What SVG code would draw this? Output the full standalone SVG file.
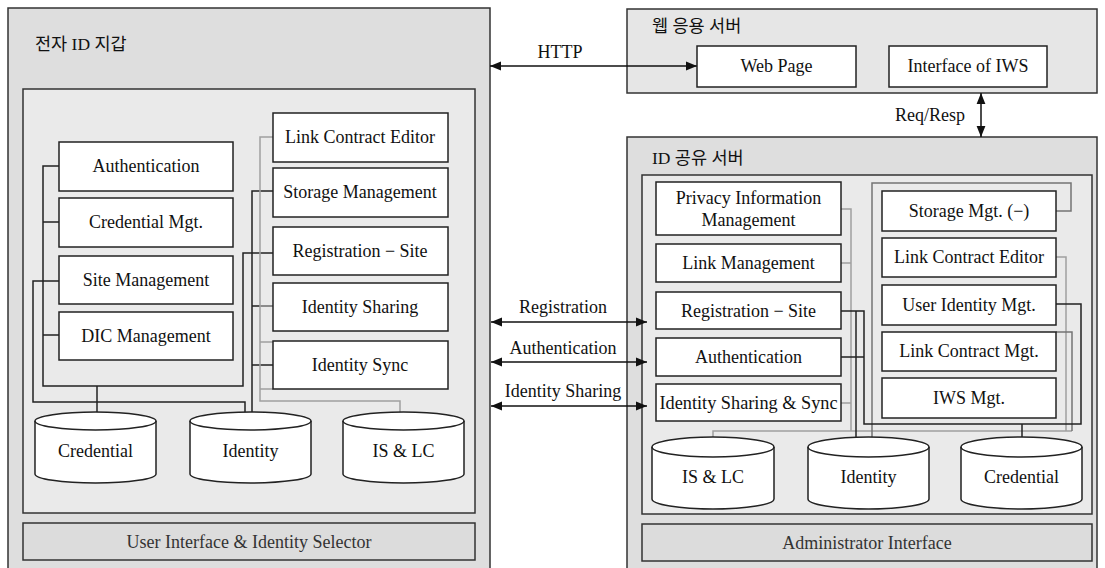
<svg xmlns="http://www.w3.org/2000/svg" width="1105" height="568" viewBox="0 0 1105 568">
<defs>
<style>
.panel{fill:#dedede;stroke:#333;stroke-width:1.5}
.panel2{fill:#e6e6e6;stroke:#333;stroke-width:1.5}
.inner{fill:#eaeaea;stroke:#333;stroke-width:1.5}
.bar{fill:#dcdcdc;stroke:#333;stroke-width:1.5}
.box{fill:#fff;stroke:#222;stroke-width:1.5}
.cyl{fill:#fff;stroke:#222;stroke-width:1.5}
.cf{fill:none;stroke:#222;stroke-width:1.5}
.t{font-family:"Liberation Serif","Noto Sans CJK KR",serif;font-size:18px;fill:#111;text-anchor:middle}
.title{font-family:"Liberation Serif","Noto Sans CJK KR",serif;font-size:17.5px;fill:#111}
.dk{fill:none;stroke:#222;stroke-width:1.5}
.gy{fill:none;stroke:#a0a0a0;stroke-width:1.5}
.md{fill:none;stroke:#747474;stroke-width:1.5}
.arr{fill:none;stroke:#111;stroke-width:1.5;marker-start:url(#ah);marker-end:url(#ah)}
</style>
<marker id="ah" viewBox="0 0 10 10" refX="10" refY="5" markerWidth="11" markerHeight="11" markerUnits="userSpaceOnUse" orient="auto-start-reverse">
<path d="M0,1 L10,5 L0,9 Z" fill="#111"/>
</marker>
</defs>

<g id="wallet">
<rect class="panel" x="8" y="8" width="482" height="570"/>
<text class="title" x="35" y="50">전자 ID 지갑</text>
<rect class="inner" x="23" y="89" width="452" height="424"/>
<rect class="bar" x="23" y="523" width="452" height="37"/>
<text class="t" x="249" y="548" style="fill:#333">User Interface &amp; Identity Selector</text>
</g>

<g id="webserver">
<rect class="panel2" x="627" y="9" width="470" height="84"/>
<text class="title" x="652" y="32">웹 응용 서버</text>
</g>

<g id="idserver">
<rect class="panel" x="627" y="137" width="470" height="441"/>
<text class="title" x="652" y="164">ID 공유 서버</text>
<rect class="inner" x="642" y="175" width="450" height="339"/>
<rect class="bar" x="642" y="524" width="450" height="37"/>
<text class="t" x="867" y="549" style="fill:#333">Administrator Interface</text>
</g>

<g id="connectors">
<!-- left wallet -->
<path class="dk" d="M59,166 H43 V386 H243 V253 H273"/>
<path class="dk" d="M59,222 H43 M59,335 H43"/>
<path class="dk" d="M97,386 V416"/>
<path class="dk" d="M59,281 H33 V402 H245 V418 H252 V191 H273"/>
<path class="dk" d="M252,306 H273 M252,365 H273"/>
<path class="gy" d="M273,137 H260 V401 H400 V420"/>
<path class="gy" d="M260,306 H273 M260,342 H273 M260,389 H273"/>
<!-- right id server -->
<path class="gy" d="M841,209 H851 V431 M841,263 H851 M841,403 H851"/>
<path class="gy" d="M713,447 V431 H1072"/>
<path class="gy" d="M1056,257 H1066 V431"/>
<path class="md" d="M1056,332 H1072 V431"/>
<path class="md" d="M1056,211 H1071 V183 H872 V448 H856"/>
<path class="dk" d="M841,311 H864 V424 H1081 V304 H1056"/>
<path class="dk" d="M841,357 H864"/>
<path class="dk" d="M856,311 V448"/>
<path class="dk" d="M1022,424 V447"/>
<!-- interfaces -->
<path class="arr" d="M490,66 H697"/>
<text class="t" x="560" y="58">HTTP</text>
<path class="arr" d="M981,93 V137"/>
<text class="t" x="930" y="121">Req/Resp</text>
<path class="arr" d="M491,322 H647"/>
<text class="t" x="563" y="313">Registration</text>
<path class="arr" d="M491,362 H647"/>
<text class="t" x="563" y="354">Authentication</text>
<path class="arr" d="M491,406 H647"/>
<text class="t" x="563" y="397">Identity Sharing</text>
</g>

<g id="w-authentication"><rect class="box" x="59" y="142" width="174" height="49"/><text class="t" x="146" y="172">Authentication</text></g>
<g id="w-credential-mgt"><rect class="box" x="59" y="198" width="174" height="49"/><text class="t" x="146" y="228">Credential Mgt.</text></g>
<g id="w-site-management"><rect class="box" x="59" y="256" width="174" height="48"/><text class="t" x="146" y="286">Site Management</text></g>
<g id="w-dic-management"><rect class="box" x="59" y="312" width="174" height="48"/><text class="t" x="146" y="342">DIC Management</text></g>

<g id="w-link-contract-editor"><rect class="box" x="273" y="113" width="175" height="49"/><text class="t" x="360" y="143">Link Contract Editor</text></g>
<g id="w-storage-management"><rect class="box" x="273" y="168" width="175" height="49"/><text class="t" x="360" y="198">Storage Management</text></g>
<g id="w-registration-site"><rect class="box" x="273" y="227" width="175" height="48"/><text class="t" x="360" y="257">Registration − Site</text></g>
<g id="w-identity-sharing"><rect class="box" x="273" y="283" width="175" height="48"/><text class="t" x="360" y="313">Identity Sharing</text></g>
<g id="w-identity-sync"><rect class="box" x="273" y="341" width="175" height="48"/><text class="t" x="360" y="371">Identity Sync</text></g>

<g id="w-db-credential"><path class="cyl" d="M35,421 A60.5,9 0 0 1 156,421 V474 A60.5,9 0 0 1 35,474 Z"/><path class="cf" d="M35,421 A60.5,9 0 0 0 156,421"/><text class="t" x="95.5" y="457">Credential</text></g>
<g id="w-db-identity"><path class="cyl" d="M190,421 A60.5,9 0 0 1 311,421 V474 A60.5,9 0 0 1 190,474 Z"/><path class="cf" d="M190,421 A60.5,9 0 0 0 311,421"/><text class="t" x="250.5" y="457">Identity</text></g>
<g id="w-db-islc"><path class="cyl" d="M343,421 A60.5,9 0 0 1 464,421 V474 A60.5,9 0 0 1 343,474 Z"/><path class="cf" d="M343,421 A60.5,9 0 0 0 464,421"/><text class="t" x="403.5" y="457">IS &amp; LC</text></g>

<g id="web-page"><rect class="box" x="697" y="46" width="159" height="41"/><text class="t" x="776.5" y="72">Web Page</text></g>
<g id="interface-iws"><rect class="box" x="889" y="46" width="158" height="41"/><text class="t" x="968" y="72">Interface of IWS</text></g>

<g id="s-privacy"><rect class="box" x="656" y="182" width="185" height="53"/><text class="t" x="748.5" y="204">Privacy Information</text><text class="t" x="748.5" y="226">Management</text></g>
<g id="s-link-management"><rect class="box" x="656" y="244" width="185" height="38"/><text class="t" x="748.5" y="269">Link Management</text></g>
<g id="s-registration-site"><rect class="box" x="656" y="292" width="185" height="37"/><text class="t" x="748.5" y="317">Registration − Site</text></g>
<g id="s-authentication"><rect class="box" x="656" y="338" width="185" height="38"/><text class="t" x="748.5" y="363">Authentication</text></g>
<g id="s-identity-sharing-sync"><rect class="box" x="656" y="384" width="185" height="37"/><text class="t" x="748.5" y="409" textLength="178" lengthAdjust="spacingAndGlyphs">Identity Sharing &amp; Sync</text></g>

<g id="s-storage-mgt"><rect class="box" x="882" y="191" width="174" height="40"/><text class="t" x="969" y="217">Storage Mgt. (−)</text></g>
<g id="s-link-contract-editor"><rect class="box" x="882" y="238" width="174" height="39"/><text class="t" x="969" y="263">Link Contract Editor</text></g>
<g id="s-user-identity-mgt"><rect class="box" x="882" y="285" width="174" height="40"/><text class="t" x="969" y="311">User Identity Mgt.</text></g>
<g id="s-link-contract-mgt"><rect class="box" x="882" y="332" width="174" height="39"/><text class="t" x="969" y="357">Link Contract Mgt.</text></g>
<g id="s-iws-mgt"><rect class="box" x="882" y="378" width="174" height="40"/><text class="t" x="969" y="404">IWS Mgt.</text></g>

<g id="s-db-islc"><path class="cyl" d="M652,447 A61,10 0 0 1 774,447 V499 A61,10 0 0 1 652,499 Z"/><path class="cf" d="M652,447 A61,10 0 0 0 774,447"/><text class="t" x="713" y="483">IS &amp; LC</text></g>
<g id="s-db-identity"><path class="cyl" d="M808,447 A60.5,10 0 0 1 929,447 V499 A60.5,10 0 0 1 808,499 Z"/><path class="cf" d="M808,447 A60.5,10 0 0 0 929,447"/><text class="t" x="868.5" y="483">Identity</text></g>
<g id="s-db-credential"><path class="cyl" d="M961,447 A60.5,10 0 0 1 1082,447 V499 A60.5,10 0 0 1 961,499 Z"/><path class="cf" d="M961,447 A60.5,10 0 0 0 1082,447"/><text class="t" x="1021.5" y="483">Credential</text></g>
</svg>
